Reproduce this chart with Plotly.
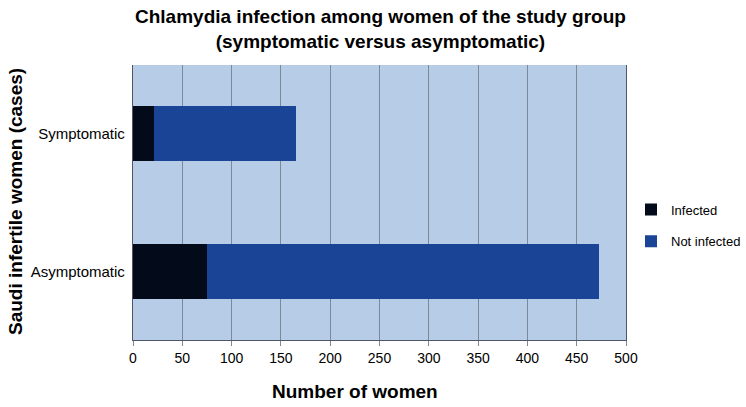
import plotly.graph_objects as go

categories = ["Asymptomatic", "Symptomatic"]
infected = [75, 21]
not_infected = [398, 144]
x_ticks = [0, 50, 100, 150, 200, 250, 300, 350, 400, 450, 500]

fig = go.Figure()
fig.add_trace(go.Bar(y=categories, x=infected, orientation="h", name="Infected",
                     legendgroup="a",
                     marker=dict(color="#030a1a", line=dict(width=0)), width=0.4))
fig.add_trace(go.Bar(y=categories, x=not_infected, orientation="h", name="Not infected",
                     legendgroup="b",
                     marker=dict(color="#1a4496", line=dict(width=0)), width=0.4))

font = "Liberation Sans, Arial, sans-serif"
L, R, T, B = 133, 120, 65, 67
PW, PH = 746 - L - R, 407 - T - B

fig.update_layout(
    barmode="stack",
    width=746, height=407,
    margin=dict(l=L, r=R, t=T, b=B, autoexpand=False),
    paper_bgcolor="white",
    plot_bgcolor="#b7cce6",
    font=dict(family=font, size=13, color="black"),
    legend=dict(x=(631 - L) / PW, y=(407 - B - 225.5) / PH, xanchor="left", yanchor="middle",
                font=dict(size=13), itemsizing="constant", tracegroupgap=12,
                traceorder="grouped", bgcolor="rgba(0,0,0,0)", itemwidth=30),
    annotations=[
        dict(text="<b>Chlamydia infection among women of the study group<br>(symptomatic versus asymptomatic)</b>",
             xref="paper", yref="paper", x=(380 - L) / PW, y=(407 - B - 29) / PH,
             xanchor="center", yanchor="middle", showarrow=False,
             font=dict(size=19, family=font)),
        dict(text="<b>Number of women</b>", xref="paper", yref="paper",
             x=(355 - L) / PW, y=(407 - B - 392) / PH, xanchor="center", yanchor="middle",
             showarrow=False, font=dict(size=19, family=font)),
        dict(text="<b>Saudi infertile women (cases)</b>", xref="paper", yref="paper",
             x=(15 - L) / PW, y=(407 - B - 202) / PH, xanchor="center", yanchor="middle",
             textangle=-90, showarrow=False, font=dict(size=19, family=font)),
    ],
)
fig.update_xaxes(range=[0, 500], tickvals=x_ticks, showgrid=True, gridcolor="#7d8898",
                 gridwidth=1.3, zeroline=False, showline=True, linecolor="#4f5666",
                 ticks="outside", ticklen=5, tickcolor="#7d8898", automargin=False,
                 tickfont=dict(size=14))
fig.update_yaxes(showgrid=False, showline=True, linecolor="#4f5666", linewidth=1.3,
                 mirror=True, ticks="outside", automargin=False,
                 ticklen=4, tickcolor="rgba(0,0,0,0)", tickfont=dict(size=15))

fig.write_html("out.html", config={"displayModeBar": False},
               post_script="document.body.style.margin='0';document.body.style.overflow='hidden';")
